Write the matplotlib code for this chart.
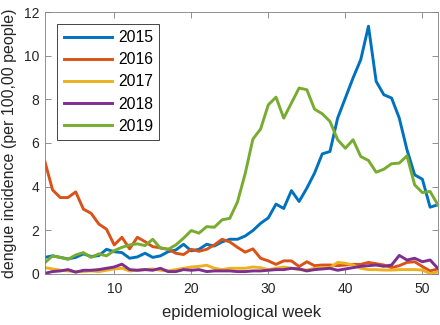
import numpy as np
import matplotlib.pyplot as plt

# 週番号 1..52
weeks = np.arange(1, 53)

# 各年のデング熱発生率 (per 100,00 people)
y2015 = [0.76, 0.83, 0.76, 0.69, 0.76, 0.92, 0.80, 0.84, 1.13, 1.02,
         0.98, 0.72, 0.78, 0.95, 0.76, 0.83, 1.02, 1.10, 1.36, 1.06,
         1.13, 1.36, 1.28, 1.47, 1.59, 1.59, 1.74, 1.99, 2.32, 2.57,
         3.20, 3.00, 3.82, 3.32, 3.93, 4.62, 5.50, 5.61, 7.14, 8.06,
         8.98, 9.82, 11.35, 8.82, 8.21, 8.06, 7.14, 5.69, 4.54, 4.34,
         3.06, 3.17]
y2016 = [5.15, 3.85, 3.50, 3.50, 3.76, 2.97, 2.78, 2.29, 2.05, 1.33,
         1.68, 1.15, 1.68, 1.48, 1.25, 1.20, 1.13, 0.95, 0.89, 1.13,
         1.04, 1.13, 1.33, 1.59, 1.47, 1.22, 1.00, 1.15, 0.72, 0.60,
         0.44, 0.60, 0.60, 0.34, 0.56, 0.38, 0.41, 0.41, 0.38, 0.41,
         0.44, 0.44, 0.53, 0.47, 0.41, 0.29, 0.38, 0.53, 0.56, 0.34,
         0.14, 0.23]
y2017 = [0.29, 0.23, 0.17, 0.14, 0.11, 0.11, 0.14, 0.11, 0.17, 0.23,
         0.26, 0.14, 0.17, 0.20, 0.23, 0.17, 0.14, 0.20, 0.26, 0.32,
         0.35, 0.40, 0.26, 0.20, 0.26, 0.26, 0.26, 0.32, 0.29, 0.20,
         0.26, 0.32, 0.26, 0.20, 0.18, 0.26, 0.29, 0.29, 0.53, 0.49,
         0.41, 0.26, 0.20, 0.20, 0.18, 0.18, 0.20, 0.20, 0.20, 0.18,
         0.02, 0.09]
y2018 = [0.03, 0.11, 0.14, 0.20, 0.08, 0.17, 0.17, 0.20, 0.26, 0.32,
         0.45, 0.20, 0.17, 0.20, 0.17, 0.26, 0.11, 0.11, 0.20, 0.17,
         0.20, 0.11, 0.14, 0.14, 0.14, 0.11, 0.11, 0.14, 0.14, 0.17,
         0.20, 0.20, 0.26, 0.23, 0.14, 0.20, 0.23, 0.26, 0.17, 0.23,
         0.29, 0.35, 0.38, 0.41, 0.35, 0.41, 0.85, 0.64, 0.72, 0.56,
         0.64, 0.26]
y2019 = [0.52, 0.83, 0.76, 0.67, 0.87, 0.98, 0.76, 0.92, 0.83, 1.07,
         1.22, 1.33, 1.38, 1.30, 1.59, 1.18, 1.13, 1.33, 1.64, 1.99,
         1.87, 2.17, 2.14, 2.48, 2.55, 3.30, 4.60, 6.18, 6.64, 7.75,
         8.10, 7.14, 7.83, 8.52, 8.44, 7.55, 7.34, 6.99, 6.15, 5.76,
         6.15, 5.38, 5.20, 4.66, 4.80, 5.05, 5.08, 5.41, 4.08, 3.73,
         3.78, 3.17]

years = ['2015', '2016', '2017', '2018', '2019']
series = [y2015, y2016, y2017, y2018, y2019]
# MATLAB の既定色
colors = ['#0072BD', '#D95319', '#EDB120', '#7E2F8E', '#77AC30']

plt.rcParams['font.family'] = ['Liberation Sans', 'DejaVu Sans']

fig = plt.figure(figsize=(4.4, 3.25), dpi=100)
ax = fig.add_axes([0.102, 0.157, 0.893, 0.806])

for lab, vals, c in zip(years, series, colors):
    ax.plot(weeks, vals, color=c, lw=2.1, label=lab)

ax.set_xlim(1, 52)
ax.set_ylim(0, 12)
ax.set_xticks([10, 20, 30, 40, 50])
ax.set_yticks(np.arange(0, 13, 2))

axis_col = '#262626'
for s in ax.spines.values():
    s.set_color('#7f7f7f')
    s.set_linewidth(0.6)
ax.tick_params(direction='in', length=4, width=0.6, color='#7f7f7f',
               labelsize=10, labelcolor=axis_col,
               top=True, right=True)
ax.tick_params(axis='x', pad=6)
ax.tick_params(axis='y', pad=4)

ax.set_xlabel('epidemiological week', fontsize=12, color=axis_col, labelpad=6.5)
ax.set_ylabel('dengue incidence (per 100,00 people)', fontsize=11.5,
              color=axis_col, labelpad=5)

leg = ax.legend(loc='upper left', bbox_to_anchor=(0.032, 0.954),
                borderaxespad=0, fontsize=11.3, handlelength=3.1,
                handletextpad=0.35, labelspacing=0.45, borderpad=0.4,
                fancybox=False, framealpha=1, edgecolor='#262626')
leg.get_frame().set_linewidth(0.6)

fig.savefig('out.png', dpi=100)
